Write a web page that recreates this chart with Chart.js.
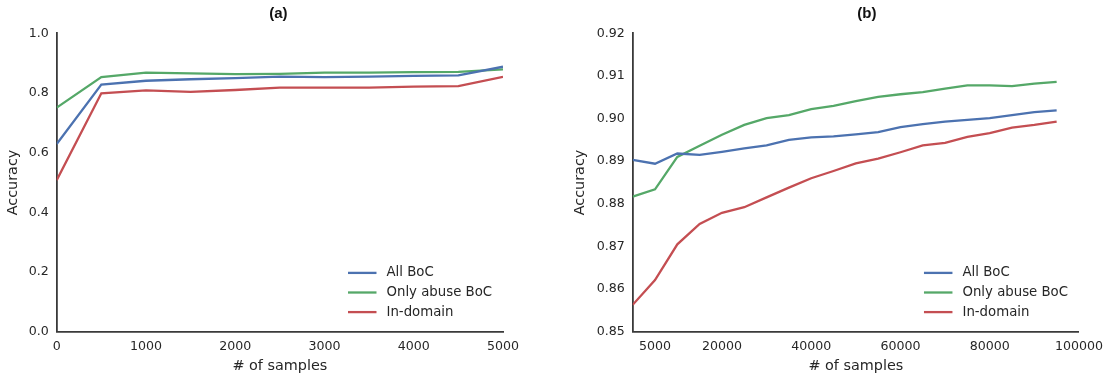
<!DOCTYPE html>
<html>
<head>
<meta charset="utf-8">
<script src="https://cdn.jsdelivr.net/npm/chart.js@4/dist/chart.umd.min.js"></script>
<style>
  html, body { margin: 0; padding: 0; background: #fff; overflow: hidden; }
  #wrap { position: relative; width: 1110px; height: 377px; }
  #chartA { position: absolute; left: 0; top: 0; }
  #chartB { position: absolute; left: 555px; top: 0; }
</style>
</head>
<body>
<div id="wrap">
  <canvas id="chartA" width="555" height="377"></canvas>
  <canvas id="chartB" width="555" height="377"></canvas>
</div>
<script>
// Panel (a): small training sizes
const samplesA = [0, 500, 1000, 1500, 2000, 2500, 3000, 3500, 4000, 4500, 5000];
const allBocA = [0.629, 0.828, 0.841, 0.846, 0.850, 0.855, 0.853, 0.855, 0.857, 0.859, 0.888];
const abuseBocA = [0.751, 0.853, 0.868, 0.866, 0.863, 0.864, 0.868, 0.868, 0.870, 0.871, 0.879];
const inDomainA = [0.508, 0.799, 0.809, 0.804, 0.810, 0.818, 0.818, 0.818, 0.821, 0.823, 0.854];
const xTicksA = [0, 1000, 2000, 3000, 4000, 5000];
const yTicksA = [0.0, 0.2, 0.4, 0.6, 0.8, 1.0];

// Panel (b): large training sizes
const samplesB = [0, 5000, 10000, 15000, 20000, 25000, 30000, 35000, 40000, 45000,
                  50000, 55000, 60000, 65000, 70000, 75000, 80000, 85000, 90000, 95000];
const allBocB = [0.8903, 0.8894, 0.8918, 0.8915, 0.8922, 0.8930, 0.8937, 0.8950, 0.8956, 0.8958,
                 0.8963, 0.8968, 0.8980, 0.8987, 0.8993, 0.8997, 0.9001, 0.9008, 0.9015, 0.9019];
const abuseBocB = [0.8817, 0.8834, 0.8910, 0.8936, 0.8962, 0.8985, 0.9001, 0.9008, 0.9022, 0.9030,
                   0.9041, 0.9051, 0.9057, 0.9062, 0.9070, 0.9078, 0.9078, 0.9076, 0.9082, 0.9086];
const inDomainB = [0.8563, 0.8621, 0.8705, 0.8753, 0.8779, 0.8792, 0.8815, 0.8838, 0.8860, 0.8877,
                   0.8895, 0.8906, 0.8921, 0.8937, 0.8943, 0.8957, 0.8966, 0.8979, 0.8985, 0.8993];
const xTicksB = [5000, 20000, 40000, 60000, 80000, 100000];
const yTicksB = [0.85, 0.86, 0.87, 0.88, 0.89, 0.90, 0.91, 0.92];

const seriesNames = ['All BoC', 'Only abuse BoC', 'In-domain'];
const seriesColors = ['#4C72B0', '#55A868', '#C44E52'];

const textColor = '#262626';
const spineColor = '#3a3a3a';
const FONT = '"DejaVu Sans", sans-serif';

// bold panel title above the plot area
const panelTitle = {
  id: 'panelTitle',
  afterDraw(chart, args, opts) {
    const {ctx, chartArea} = chart;
    ctx.save();
    ctx.font = 'bold 15px "Liberation Sans", Arial, sans-serif';
    ctx.fillStyle = '#111';
    ctx.textAlign = 'center';
    ctx.textBaseline = 'middle';
    ctx.fillText(opts.text, (chartArea.left + chartArea.right) / 2 + (opts.shift || 0), 14);
    ctx.restore();
  }
};

// matplotlib-like legend in the lower right corner of the plot
const cornerLegend = {
  id: 'cornerLegend',
  afterDraw(chart) {
    const {ctx, chartArea} = chart;
    ctx.save();
    ctx.font = '13.3px ' + FONT;
    ctx.textBaseline = 'middle';
    ctx.textAlign = 'left';
    const n = chart.data.datasets.length;
    chart.data.datasets.forEach(function(ds, i) {
      const y = chartArea.bottom - 19.6 * (n - i);
      const x0 = chartArea.right - 155;
      ctx.strokeStyle = ds.borderColor;
      ctx.lineWidth = 2.3;
      ctx.beginPath();
      ctx.moveTo(x0, y);
      ctx.lineTo(x0 + 28.5, y);
      ctx.stroke();
      ctx.fillStyle = textColor;
      ctx.fillText(ds.label, chartArea.right - 116.5, y);
    });
    ctx.restore();
  }
};

function makeDatasets(xs, seriesList) {
  return seriesList.map(function(values, i) {
    return {
      label: seriesNames[i],
      data: xs.map(function(x, j) { return {x: x, y: values[j]}; }),
      borderColor: seriesColors[i],
      backgroundColor: seriesColors[i],
      borderWidth: 2.3,
      pointRadius: 0,
      tension: 0
    };
  });
}

function makeChart(id, opts) {
  return new Chart(document.getElementById(id), {
    type: 'line',
    data: { datasets: makeDatasets(opts.xs, opts.series) },
    options: {
      responsive: false,
      devicePixelRatio: 1,
      animation: false,
      layout: { padding: { left: 0, right: opts.padRight, top: 33.3, bottom: 0 } },
      plugins: {
        legend: { display: false },
        tooltip: { enabled: false },
        panelTitle: { text: opts.title, shift: opts.titleShift }
      },
      scales: {
        x: {
          type: 'linear',
          min: opts.xMin,
          max: opts.xMax,
          afterBuildTicks: function(scale) {
            scale.ticks = opts.xTicks.map(function(v) { return {value: v}; });
          },
          afterFit: function(scale) { scale.height = 45.3; },
          grid: { display: false, drawTicks: false },
          border: { display: true, color: spineColor, width: 1.8 },
          ticks: {
            color: textColor,
            font: { family: FONT, size: 12.6 },
            padding: 7,
            maxRotation: 0,
            autoSkip: false,
            callback: function(v) { return String(v); }
          },
          title: {
            display: true,
            text: '# of samples',
            color: textColor,
            font: { family: FONT, size: 14.4 },
            padding: { top: 0, bottom: 2 }
          }
        },
        y: {
          type: 'linear',
          min: opts.yMin,
          max: opts.yMax,
          afterBuildTicks: function(scale) {
            scale.ticks = opts.yTicks.map(function(v) { return {value: v}; });
          },
          afterFit: function(scale) { scale.width = opts.yWidth; },
          grid: { display: false, drawTicks: false },
          border: { display: true, color: spineColor, width: 1.8 },
          ticks: {
            color: textColor,
            font: { family: FONT, size: 12.6 },
            padding: 8,
            autoSkip: false,
            callback: function(v) { return v.toFixed(opts.yDigits); }
          },
          title: {
            display: true,
            text: 'Accuracy',
            color: textColor,
            font: { family: FONT, size: 14.4 },
            padding: { top: opts.yTitlePad, bottom: 0 }
          }
        }
      }
    },
    plugins: [panelTitle, cornerLegend]
  });
}

makeChart('chartA', {
  xs: samplesA,
  series: [allBocA, abuseBocA, inDomainA],
  title: '(a)', titleShift: -1.5,
  xMin: 0, xMax: 5000, xTicks: xTicksA,
  yMin: 0, yMax: 1, yTicks: yTicksA, yDigits: 1,
  yWidth: 56.7, yTitlePad: 5, padRight: 52
});

makeChart('chartB', {
  xs: samplesB,
  series: [allBocB, abuseBocB, inDomainB],
  title: '(b)', titleShift: 11,
  xMin: 0, xMax: 100000, xTicks: xTicksB,
  yMin: 0.85, yMax: 0.92, yTicks: yTicksB, yDigits: 2,
  yWidth: 77.7, yTitlePad: 17, padRight: 31
});
</script>
</body>
</html>
